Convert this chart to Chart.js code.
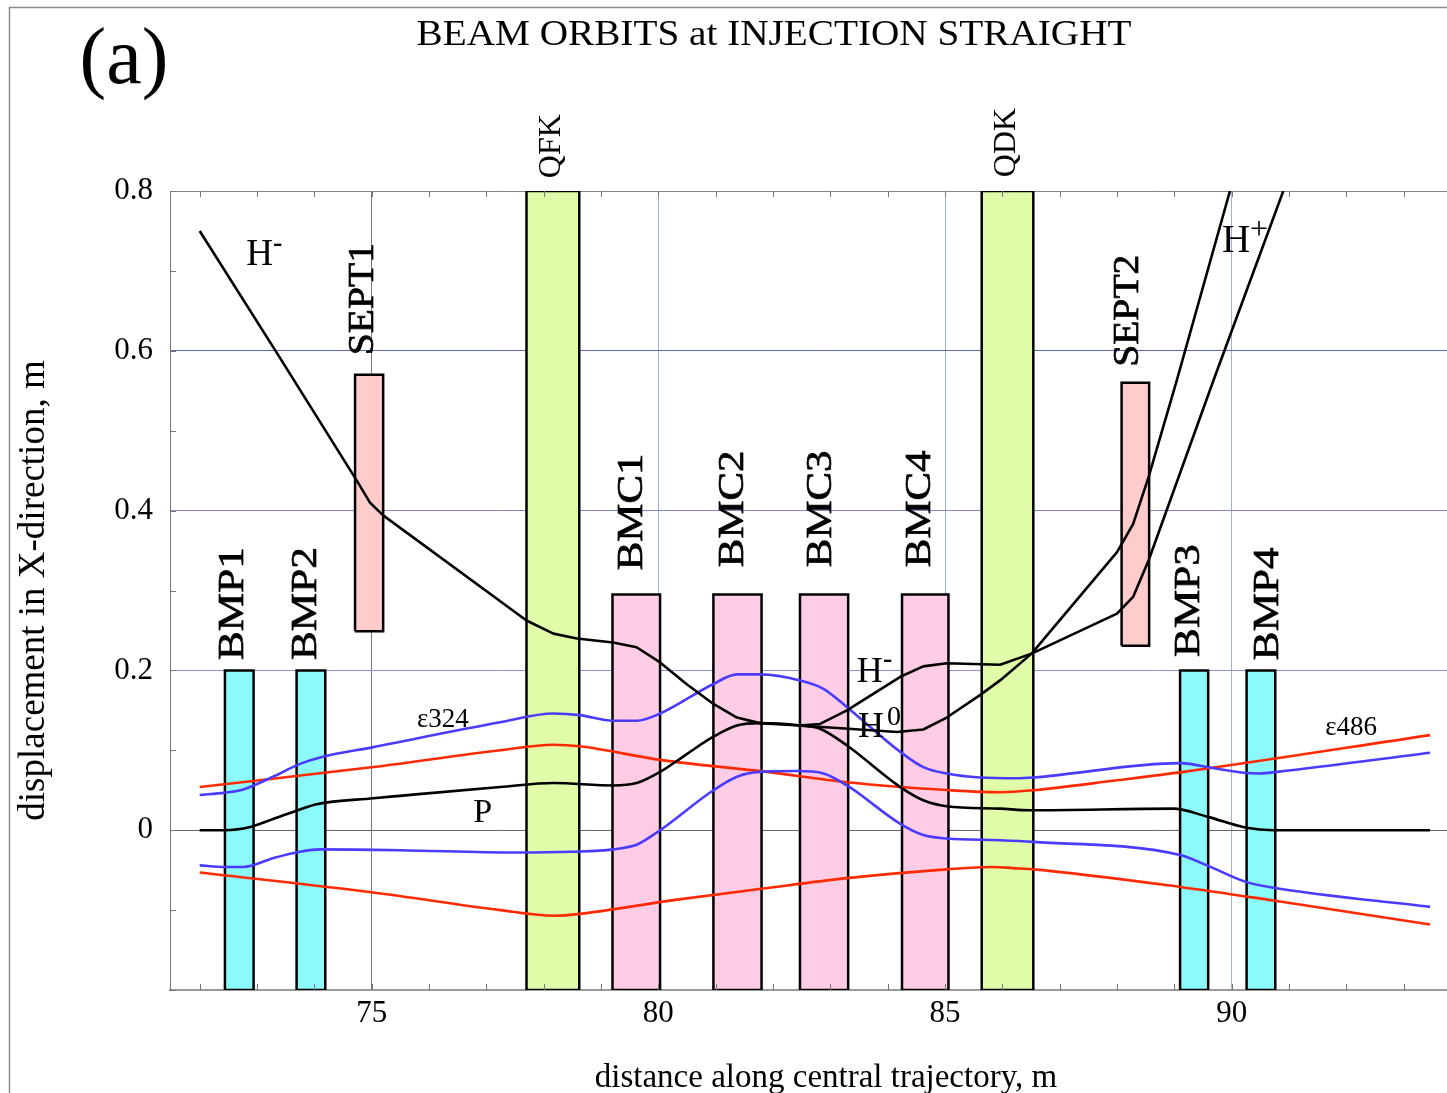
<!DOCTYPE html>
<html>
<head>
<meta charset="utf-8">
<title>Beam orbits at injection straight</title>
<script src="https://cdn.jsdelivr.net/npm/chart.js@4.4.1/dist/chart.umd.min.js"></script>
<style>
  html, body { margin: 0; padding: 0; background: #fff; overflow: hidden; }
  #wrap { position: absolute; left: 0; top: 0; width: 1482px; height: 1093px; }
</style>
</head>
<body>
<div id="wrap"><canvas id="chart" width="1482" height="1093"></canvas></div>
<script>
// ---- Orbits: s = distance along central trajectory (m), x = displacement (m) ----
const pOrbitS = [72.00, 72.44, 72.88, 73.28, 73.75, 74.04, 75.03, 75.49, 77.24, 78.17, 79.21, 79.62, 80.03, 80.49, 80.96, 81.37, 81.77, 82.47, 82.82, 83.29, 84.22, 84.62, 85.03, 85.96, 86.48, 88.98, 89.57, 90.26, 90.72, 93.46];
const pOrbitX = [0, 0, 0.004, 0.014, 0.026, 0.0325, 0.040, 0.043, 0.054, 0.059, 0.056, 0.059, 0.073, 0.095, 0.117, 0.131, 0.134, 0.131, 0.127, 0.106, 0.054, 0.0375, 0.030, 0.027, 0.025, 0.027, 0.017, 0.003, 0, 0];

const hMinusS = [72.00, 73.34, 74.74, 74.97, 75.20, 77.70, 78.17, 78.58, 79.21, 79.62, 80.03, 80.49, 80.96, 81.37, 81.77, 82.47, 82.82, 83.29, 84.22, 84.62, 85.03, 85.96, 86.51, 88.00, 88.28, 88.55, 89.68, 90.90];
const hMinusX = [0.75, 0.598, 0.4375, 0.41, 0.394, 0.2625, 0.246, 0.24, 0.235, 0.229, 0.21, 0.183, 0.158, 0.141, 0.134, 0.131, 0.133, 0.15, 0.192, 0.205, 0.209, 0.207, 0.221, 0.271, 0.292, 0.3375, 0.5625, 0.8];

const hZeroS = [82.47, 84.16, 84.62, 85.03, 85.61, 85.96, 86.51, 88.00, 88.28, 88.55, 89.04, 89.97];
const hZeroX = [0.131, 0.123, 0.126, 0.141, 0.169, 0.1875, 0.221, 0.348, 0.383, 0.442, 0.5625, 0.8];

// beam envelope, emittance 324 (blue)
const env324UpperS = [72.00, 72.44, 72.76, 73.28, 73.75, 74.10, 75.03, 77.24, 78.17, 78.63, 79.21, 79.62, 80.03, 80.96, 81.37, 81.77, 82.47, 82.88, 83.29, 84.22, 84.62, 85.03, 85.61, 86.25, 86.54, 89.10, 89.27, 89.57, 90.20, 90.49, 90.79, 93.46];
const env324UpperX = [0.044, 0.047, 0.051, 0.067, 0.083, 0.091, 0.104, 0.135, 0.146, 0.144, 0.137, 0.137, 0.146, 0.183, 0.195, 0.195, 0.1875, 0.177, 0.154, 0.098, 0.079, 0.071, 0.066, 0.065, 0.066, 0.084, 0.083, 0.079, 0.072, 0.071, 0.073, 0.097];
const env324LowerS = [72.00, 72.44, 72.76, 73.28, 73.75, 74.10, 75.49, 77.49, 78.49, 79.21, 79.64, 80.03, 80.96, 81.37, 81.77, 82.41, 82.88, 83.29, 84.22, 84.62, 85.03, 85.96, 86.54, 89.10, 89.57, 90.26, 90.73, 93.46];
const env324LowerX = [-0.044, -0.046, -0.046, -0.035, -0.027, -0.024, -0.025, -0.028, -0.027, -0.024, -0.0175, 0, 0.05, 0.067, 0.073, 0.074, 0.071, 0.056, 0.008, -0.006, -0.0104, -0.0125, -0.0146, -0.031, -0.044, -0.065, -0.072, -0.096];

// beam envelope, emittance 486 (red)
const env486UpperS = [72.00, 75.03, 77.24, 78.17, 78.63, 80.03, 81.89, 83.29, 85.09, 85.96, 86.54, 88.00, 89.16, 93.46];
const env486UpperX = [0.054, 0.079, 0.100, 0.107, 0.105, 0.088, 0.073, 0.060, 0.050, 0.0475, 0.050, 0.0625, 0.073, 0.119];
const env486LowerS = [72.00, 75.03, 77.24, 78.19, 78.59, 80.26, 81.83, 83.29, 85.03, 85.80, 86.30, 86.54, 89.10, 90.73, 93.46];
const env486LowerX = [-0.053, -0.078, -0.100, -0.107, -0.105, -0.0875, -0.073, -0.060, -0.049, -0.046, -0.048, -0.049, -0.071, -0.088, -0.118];

// ---- Lattice elements ----
const elementNames = ['BMP1', 'BMP2', 'SEPT1', 'QFK', 'BMC1', 'BMC2', 'BMC3', 'BMC4', 'QDK', 'SEPT2', 'BMP3', 'BMP4'];
const elementKinds = ['bump', 'bump', 'septum', 'quad', 'chicane', 'chicane', 'chicane', 'chicane', 'quad', 'septum', 'bump', 'bump'];
const elementStart = [72.44, 73.69, 74.71, 77.70, 79.20, 80.96, 82.47, 84.25, 85.64, 88.08, 89.10, 90.26];
const elementEnd   = [72.94, 74.19, 75.20, 78.62, 80.03, 81.80, 83.31, 85.06, 86.54, 88.56, 89.59, 90.76];
const elementLow   = [-0.2, -0.2, 0.249, -0.2, -0.2, -0.2, -0.2, -0.2, -0.2, 0.231, -0.2, -0.2];
const elementHigh  = [0.2, 0.2, 0.57, 0.8, 0.295, 0.295, 0.295, 0.295, 0.8, 0.56, 0.2, 0.2];

// ---- Axis tick labels ----
const xTickLabels = ['75', '80', '85', '90'];
const yTickLabels = ['0', '0.2', '0.4', '0.6', '0.8'];

// ---- Styling / placement ----
const SERIF = '"Liberation Serif", "Times New Roman", serif';
const kindStyle = {
  bump:    { fill: '#8cfafa', font: '36px', stretch: 1.2, weight: 0.7 },
  septum:  { fill: '#ffcccc', font: '36px', stretch: 1.1, weight: 0.7 },
  quad:    { fill: '#e0fca8', font: '32px', stretch: 1.0, weight: 0 },
  chicane: { fill: '#ffcce6', font: '36px', stretch: 1.19, weight: 0.7 }
};
// rotated element names: [s, x] where the text starts (its lower end)
const elementLabelAt = [
  [72.59, 0.213], [73.87, 0.213], [74.85, 0.5945], [78.145, 0.816], [79.55, 0.3254], [81.32, 0.3292],
  [82.84, 0.3292], [84.58, 0.3292], [86.08, 0.8173], [88.20, 0.5799], [89.27, 0.2169], [90.64, 0.2128]
];
// orbit names: text, [s, x] of baseline start, size, bold
const orbitLabels = [
  { t: 'H', at: [72.81, 0.707], size: 37 },
  { t: '-', at: [73.28, 0.725], size: 28, bold: true },
  { t: 'H', at: [83.46, 0.1856], size: 36 },
  { t: '-', at: [83.92, 0.204], size: 28, bold: true },
  { t: 'H', at: [83.48, 0.1164], size: 36 },
  { t: '0', at: [83.99, 0.1314], size: 28 },
  { t: 'H', at: [89.83, 0.7238], size: 39 },
  { t: '+', at: [90.32, 0.7403], size: 32 },
  { t: 'P', at: [76.77, 0.0104], size: 34 },
  { t: '\u03b5324', at: [75.79, 0.1289], size: 27 },
  { t: '\u03b5486', at: [91.63, 0.1189], size: 27 }
];

const zip = (s, x) => s.map((v, i) => ({ x: v, y: x[i] }));

// smooth: monotone cubic through the points; otherwise straight segments
function curve(label, s, x, color, smooth) {
  const ds = {
    type: 'line', label, data: zip(s, x), borderColor: color, borderWidth: 2.6,
    pointRadius: 0, fill: false, tension: 0, borderJoinStyle: 'round', order: 0
  };
  if (smooth) ds.cubicInterpolationMode = 'monotone';
  return ds;
}

function elementBox(i) {
  const a = elementStart[i], b = elementEnd[i], lo = elementLow[i], hi = elementHigh[i];
  return {
    type: 'line', label: elementNames[i],
    data: [{ x: a, y: lo }, { x: a, y: hi }, { x: b, y: hi }, { x: b, y: lo }, { x: a, y: lo }],
    borderColor: '#000', borderWidth: 2.5, borderJoinStyle: 'miter',
    backgroundColor: kindStyle[elementKinds[i]].fill, fill: 'shape', tension: 0,
    pointRadius: 0, order: 10
  };
}

const datasets = [
  curve('H-', hMinusS, hMinusX, '#000', false),
  curve('H0', hZeroS, hZeroX, '#000', false),
  curve('P', pOrbitS, pOrbitX, '#000', true),
  curve('e324 upper', env324UpperS, env324UpperX, '#4a3cff', true),
  curve('e324 lower', env324LowerS, env324LowerX, '#4a3cff', true),
  curve('e486 upper', env486UpperS, env486UpperX, '#ff2a00', true),
  curve('e486 lower', env486LowerS, env486LowerX, '#ff2a00', true),
  ...elementNames.map((_, i) => elementBox(i))
];

const yKey = v => { const r = Math.round(v * 10) / 10; return r === 0 ? '0' : r.toFixed(1); };

const decor = {
  id: 'decor',
  beforeDraw(chart) {
    const c = chart.ctx;
    c.save();
    c.strokeStyle = '#8a8a8a';
    c.lineWidth = 1.5;
    c.beginPath();
    c.moveTo(9.5, chart.height);
    c.lineTo(9.5, 7.5);
    c.lineTo(chart.width, 7.5);
    c.stroke();
    c.restore();
  },
  afterDraw(chart) {
    const c = chart.ctx, xs = chart.scales.x, ys = chart.scales.y, area = chart.chartArea;
    c.save();
    // inward tick marks
    c.strokeStyle = '#777';
    c.lineWidth = 1;
    c.beginPath();
    xs.ticks.forEach(t => {
      const px = Math.round(xs.getPixelForValue(t.value)) + 0.5;
      c.moveTo(px, area.top); c.lineTo(px, area.top + 6);
      c.moveTo(px, area.bottom); c.lineTo(px, area.bottom - 6);
    });
    ys.ticks.forEach(t => {
      const py = Math.round(ys.getPixelForValue(t.value)) + 0.5;
      c.moveTo(area.left, py); c.lineTo(area.left + 6, py);
    });
    c.stroke();

    c.fillStyle = '#000';
    c.strokeStyle = '#000';
    // element names, rotated
    elementNames.forEach((name, i) => {
      const [s, x] = elementLabelAt[i];
      const st = kindStyle[elementKinds[i]];
      c.save();
      c.translate(xs.getPixelForValue(s), ys.getPixelForValue(x));
      c.rotate(-Math.PI / 2);
      c.scale(st.stretch, 1);
      c.font = st.font + ' ' + SERIF;
      c.textAlign = 'left';
      c.textBaseline = 'middle';
      c.fillText(name, 0, 0);
      if (st.weight) { c.lineWidth = st.weight; c.strokeText(name, 0, 0); }
      c.restore();
    });
    // orbit names
    c.textAlign = 'left';
    c.textBaseline = 'alphabetic';
    orbitLabels.forEach(l => {
      c.font = (l.bold ? 'bold ' : '') + l.size + 'px ' + SERIF;
      c.fillText(l.t, xs.getPixelForValue(l.at[0]), ys.getPixelForValue(l.at[1]));
    });
    // headings
    c.save();
    c.translate(774, 45);
    c.scale(1.09, 1);
    c.textAlign = 'center';
    c.font = '36px ' + SERIF;
    c.fillText('BEAM ORBITS at INJECTION STRAIGHT', 0, 0);
    c.restore();
    c.textAlign = 'center';
    c.font = '80px ' + SERIF;
    c.fillText('(a)', 124, 83);
    c.restore();
  }
};

new Chart(document.getElementById('chart'), {
  type: 'line',
  data: { datasets },
  plugins: [decor],
  options: {
    responsive: false,
    animation: false,
    devicePixelRatio: 1,
    layout: { padding: { top: 191, left: 0, right: 0, bottom: 0 } },
    plugins: { legend: { display: false }, tooltip: { enabled: false }, title: { display: false } },
    elements: { point: { radius: 0 } },
    scales: {
      x: {
        type: 'linear', position: 'bottom', min: 71.482, max: 94.366, z: 1,
        afterFit(s) { s.height = 103; },
        ticks: {
          stepSize: 1, autoSkip: false, includeBounds: false, maxRotation: 0, minRotation: 0,
          padding: 5, color: '#000', font: { family: SERIF, size: 31 },
          callback: v => { const l = String(Math.round(v)); return xTickLabels.includes(l) ? l : ''; }
        },
        grid: {
          drawTicks: false, lineWidth: 1,
          color: ctx => {
            const v = Math.round(ctx.tick.value);
            if (v === 75) return '#777';
            if (v === 80 || v === 85 || v === 90) return '#a4aee0';
            return 'rgba(0,0,0,0)';
          }
        },
        border: { display: true, color: '#999', width: 2 },
        title: {
          display: true, text: 'distance along central trajectory, m', color: '#000',
          font: { family: SERIF, size: 33 }, padding: { top: 0, bottom: -5 }
        }
      },
      y: {
        type: 'linear', position: 'left', min: -0.2, max: 0.8, z: 1,
        afterFit(s) { s.width = 170; },
        ticks: {
          stepSize: 0.1, autoSkip: false, padding: 17, color: '#000', font: { family: SERIF, size: 31 },
          callback: v => { const l = yKey(v); return yTickLabels.includes(l) ? l : ''; }
        },
        grid: {
          drawTicks: false, lineWidth: 1,
          color: ctx => {
            const l = yKey(ctx.tick.value);
            if (l === '0.8') return '#888';
            if (l === '0.6') return '#5a67aa';
            if (l === '0.4') return '#7f8ac8';
            if (l === '0.2') return '#8c96d6';
            if (l === '0') return '#666';
            return 'rgba(0,0,0,0)';
          }
        },
        border: { display: true, color: '#777', width: 1 },
        title: {
          display: true, text: 'displacement in X-direction, m', color: '#000',
          font: { family: SERIF, size: 37 }, padding: { top: 12, bottom: 0 }
        }
      }
    }
  }
});
</script>
</body>
</html>
